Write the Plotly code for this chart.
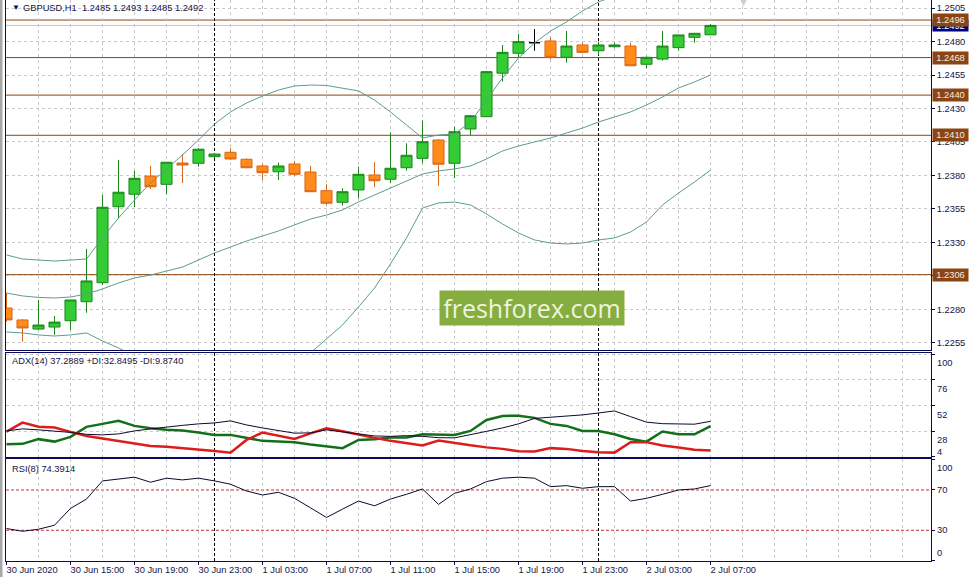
import plotly.graph_objects as go
import pandas as pd

# ---------------- data ----------------
bar_times = pd.date_range("2020-06-30 11:00", periods=45, freq="h")

open_ = [1.22811, 1.22722, 1.22654, 1.22669, 1.22716, 1.22858, 1.23000, 1.23567, 1.23660, 1.23796,
         1.23734, 1.23893, 1.23891, 1.23940, 1.23973, 1.23921, 1.23871, 1.23828, 1.23886, 1.23826,
         1.23687, 1.23600, 1.23692, 1.23804, 1.23772, 1.23858, 1.23928, 1.24065, 1.23891, 1.24147,
         1.24239, 1.24563, 1.24712, 1.24791, 1.24804, 1.24682, 1.24774, 1.24731, 1.24761, 1.24766,
         1.24630, 1.24669, 1.24754, 1.24831, 1.24850]
high = [1.22923, 1.22729, 1.22871, 1.22751, 1.22871, 1.23252, 1.23655, 1.23916, 1.23834, 1.23873,
        1.23899, 1.23960, 1.24003, 1.23968, 1.24003, 1.23928, 1.23886, 1.23896, 1.23910, 1.23871,
        1.23734, 1.23705, 1.23866, 1.23899, 1.24122, 1.24040, 1.24209, 1.24072, 1.24164, 1.24251,
        1.24580, 1.24774, 1.24856, 1.24893, 1.24831, 1.24878, 1.24791, 1.24799, 1.24791, 1.24791,
        1.24688, 1.24878, 1.24850, 1.24864, 1.24930]
low = [1.22710, 1.22560, 1.22647, 1.22610, 1.22647, 1.22776, 1.22983, 1.23481, 1.23563, 1.23699,
       1.23660, 1.23744, 1.23866, 1.23931, 1.23916, 1.23854, 1.23766, 1.23766, 1.23796, 1.23677,
       1.23580, 1.23575, 1.23630, 1.23712, 1.23742, 1.23836, 1.23891, 1.23722, 1.23779, 1.24102,
       1.24237, 1.24500, 1.24675, 1.24731, 1.24667, 1.24642, 1.24712, 1.24699, 1.24754, 1.24617,
       1.24600, 1.24657, 1.24731, 1.24791, 1.24850]
close = [1.22722, 1.22662, 1.22684, 1.22706, 1.22871, 1.23013, 1.23563, 1.23675, 1.23779, 1.23716,
         1.23899, 1.23878, 1.23996, 1.23960, 1.23923, 1.23858, 1.23821, 1.23871, 1.23809, 1.23679,
         1.23593, 1.23679, 1.23809, 1.23761, 1.23854, 1.23951, 1.24052, 1.23884, 1.24127, 1.24246,
         1.24575, 1.24719, 1.24799, 1.24791, 1.24682, 1.24766, 1.24719, 1.24774, 1.24774, 1.24619,
         1.24682, 1.24766, 1.24849, 1.24861, 1.24920]

bb_upper = [1.23207, 1.23177, 1.23169, 1.23162, 1.23169, 1.23177, 1.23334, 1.23483, 1.23617, 1.23744,
            1.23849, 1.23953, 1.24065, 1.24184, 1.24274, 1.24341, 1.24393, 1.24438, 1.24468, 1.24475,
            1.24472, 1.24453, 1.24431, 1.24363, 1.24274, 1.24177, 1.24080, 1.24102, 1.24110, 1.24199,
            1.24363, 1.24528, 1.24677, 1.24789, 1.24878, 1.24946, 1.25028, 1.25095, 1.25140, 1.25169,
            1.25199, 1.25192, 1.25237, 1.25244, 1.25259]
bb_mid = [1.22923, 1.22901, 1.22890, 1.22886, 1.22893, 1.22916, 1.22953, 1.22998, 1.23035, 1.23057,
          1.23087, 1.23117, 1.23169, 1.23222, 1.23266, 1.23311, 1.23348, 1.23386, 1.23431, 1.23475,
          1.23505, 1.23543, 1.23602, 1.23654, 1.23707, 1.23759, 1.23811, 1.23834, 1.23849, 1.23871,
          1.23923, 1.23983, 1.24020, 1.24050, 1.24080, 1.24117, 1.24154, 1.24199, 1.24237, 1.24274,
          1.24326, 1.24386, 1.24453, 1.24498, 1.24550]
bb_lower = [1.22632, 1.22625, 1.22610, 1.22602, 1.22610, 1.22625, 1.22565, 1.22513, 1.22453, 1.22371,
            1.22326, 1.22281, 1.22274, 1.22259, 1.22259, 1.22281, 1.22304, 1.22334, 1.22393, 1.22475,
            1.22580, 1.22684, 1.22819, 1.22960, 1.23140, 1.23334, 1.23557, 1.23595, 1.23602, 1.23580,
            1.23513, 1.23438, 1.23371, 1.23319, 1.23296, 1.23289, 1.23296, 1.23319, 1.23334, 1.23378,
            1.23453, 1.23580, 1.23669, 1.23751, 1.23841]

adx = [28.3, 30.2, 29.3, 28.3, 26.9, 25.1, 24.6, 25.5, 28.3, 30.2, 32.1, 33.5, 34.9, 35.8, 37.7,
       33.9, 31.1, 28.3, 26.2, 26.5, 29.3, 27.4, 25.5, 23.6, 23.2, 23.9, 23.2, 22.0, 21.8, 24.6,
       27.9, 31.1, 34.9, 40.0, 40.9, 41.9, 43.3, 45.1, 47.0, 41.7, 36.5, 35.1, 34.6, 34.6, 37.2889]
plus_di = [15.9, 16.2, 20.6, 18.3, 22.7, 32.1, 34.9, 37.7, 33.0, 30.7, 29.3, 28.6, 26.9, 24.6, 24.6,
           21.5, 19.0, 18.5, 17.8, 15.7, 13.6, 12.2, 19.9, 20.6, 22.1, 22.1, 25.1, 24.6, 24.6, 28.3,
           38.6, 42.3, 42.6, 40.5, 34.9, 33.0, 28.3, 28.3, 25.2, 20.8, 18.3, 27.7, 25.2, 25.2, 32.8495]
minus_di = [27.7, 36.1, 32.3, 31.4, 27.4, 23.6, 21.3, 19.0, 16.2, 14.3, 13.6, 12.4, 11.5, 9.6, 8.0,
            19.9, 26.7, 24.1, 20.8, 26.0, 30.8, 27.9, 24.6, 21.8, 19.0, 16.6, 14.6, 19.3, 16.8, 14.8,
            12.9, 11.5, 9.2, 9.0, 12.2, 11.5, 9.6, 8.4, 8.0, 17.8, 17.8, 14.6, 12.7, 10.6, 9.874]
rsi = [31.7, 29.0, 31.0, 35.0, 51.7, 61.0, 79.0, 81.0, 82.7, 77.7, 81.7, 80.0, 81.7, 79.0, 75.7,
       69.0, 65.0, 67.7, 61.7, 52.3, 42.7, 51.0, 59.0, 54.3, 61.0, 65.7, 71.0, 55.7, 66.7, 71.0,
       78.3, 81.7, 82.7, 81.7, 73.3, 74.3, 71.7, 73.3, 73.3, 59.0, 61.7, 65.7, 70.0, 71.0, 74.3914]

levels = [1.2496, 1.2468, 1.2440, 1.2410, 1.2306]
bid = 1.2492
price_ticks = [1.2255, 1.2280, 1.2305, 1.2330, 1.2355, 1.2380, 1.2405, 1.2430, 1.2455, 1.2480, 1.2505]
adx_ticks = [100, 76, 52, 28, 4]
rsi_ticks = [100, 70, 30, 0]
rsi_levels = [70, 30]
x_tick_labels = ["30 Jun 2020", "30 Jun 15:00", "30 Jun 19:00", "30 Jun 23:00", "1 Jul 03:00",
                 "1 Jul 07:00", "1 Jul 11:00", "1 Jul 15:00", "1 Jul 19:00", "1 Jul 23:00",
                 "2 Jul 03:00", "2 Jul 07:00"]
x_tick_pos = [0, 4, 8, 12, 16, 20, 24, 28, 32, 36, 40, 44]
grid_pos = list(range(0, 57, 2))
title_text = "GBPUSD,H1\u00a0\u00a01.2485 1.2493 1.2485 1.2492"
adx_text = "ADX(14) 37.2889 +DI:32.8495 -DI:9.8740"
rsi_text = "RSI(8) 74.3914"

# ---------------- style ----------------
W, H = 973, 577
def fx(px): return px / W
def fy(py): return 1 - py / H

BORDER = "#0b0b5c"
GRID = "#c9c9c9"
TXT = "#14144a"
FONT = "Liberation Sans"
FS = 9.3
BULL_FILL, BULL_LINE = "#33cc33", "#1c861c"
BEAR_FILL, BEAR_LINE = "#ff8c1a", "#d9661a"
BB = "#5c9c8c"
BROWN = "#8b4513"

n = len(close)
xs = list(range(n))
x_rng = [(6 - 6.5) / 16, (931 - 6.5) / 16]

fig = go.Figure()

normal = [i for i in xs if close[i] != open_[i]]
doji = [i for i in xs if close[i] == open_[i]]

for arr, col in [(bb_upper, BB), (bb_mid, BB), (bb_lower, BB)]:
    fig.add_trace(go.Scatter(x=xs, y=arr, mode="lines", line=dict(color=col, width=1),
                             hoverinfo="skip", xaxis="x", yaxis="y"))

fig.add_trace(go.Candlestick(
    x=normal, open=[open_[i] for i in normal], high=[high[i] for i in normal],
    low=[low[i] for i in normal], close=[close[i] for i in normal],
    increasing=dict(line=dict(color=BULL_LINE, width=1), fillcolor=BULL_FILL),
    decreasing=dict(line=dict(color=BEAR_LINE, width=1), fillcolor=BEAR_FILL),
    whiskerwidth=0, hoverinfo="skip", xaxis="x", yaxis="y"))
fig.add_trace(go.Candlestick(
    x=doji, open=[open_[i] for i in doji], high=[high[i] for i in doji],
    low=[low[i] for i in doji], close=[close[i] for i in doji],
    increasing=dict(line=dict(color="#000000", width=1), fillcolor="#000000"),
    decreasing=dict(line=dict(color="#000000", width=1), fillcolor="#000000"),
    whiskerwidth=0, hoverinfo="skip", xaxis="x", yaxis="y"))

fig.add_trace(go.Scatter(x=xs, y=plus_di, mode="lines", line=dict(color="#12701a", width=2.5),
                         hoverinfo="skip", xaxis="x2", yaxis="y2"))
fig.add_trace(go.Scatter(x=xs, y=minus_di, mode="lines", line=dict(color="#dd1c1c", width=2.5),
                         hoverinfo="skip", xaxis="x2", yaxis="y2"))
fig.add_trace(go.Scatter(x=xs, y=adx, mode="lines", line=dict(color="#0a0a2a", width=1),
                         hoverinfo="skip", xaxis="x2", yaxis="y2"))
fig.add_trace(go.Scatter(x=xs, y=rsi, mode="lines", line=dict(color="#0a0a2a", width=1),
                         hoverinfo="skip", xaxis="x3", yaxis="y3"))

xdom = [fx(6), fx(931)]
def xaxis(anchor, labels, mirror=True):
    d = dict(domain=xdom, range=x_rng, anchor=anchor, showline=True, mirror=mirror,
             linecolor=BORDER, linewidth=1, zeroline=False,
             tickmode="array", tickvals=x_tick_pos,
             ticktext=x_tick_labels if labels else [""] * len(x_tick_pos),
             showgrid=True, gridcolor=GRID, griddash="3px,3px", gridwidth=1,
             minor=dict(tickmode="array", tickvals=grid_pos, showgrid=True, gridcolor=GRID,
                        griddash="3px,3px", gridwidth=1, ticks=""),
             showticklabels=labels, ticks="outside" if labels else "", ticklen=3,
             tickcolor=BORDER, rangeslider=dict(visible=False),
             tickfont=dict(family=FONT, size=FS, color=TXT))
    if labels:
        d["ticklabelposition"] = "outside right"
        d["ticklabelshift"] = -1
    return d

fig.update_layout(
    width=W, height=H, margin=dict(l=0, r=0, t=0, b=0, autoexpand=False),
    paper_bgcolor="white", plot_bgcolor="white", showlegend=False, hovermode=False,
    boxgap=0.31, boxgroupgap=0,
    xaxis=xaxis("y", False, mirror=False),
    xaxis2=xaxis("y2", False),
    xaxis3=xaxis("y3", True),
    yaxis=dict(domain=[fy(350), fy(0)], range=[1.251097 - 0.00007463 * 350, 1.251097],
               anchor="x", side="right", showline=True, mirror=True, linecolor=BORDER, linewidth=1,
               tickmode="array", tickvals=price_ticks, ticktext=[f"{v:.4f}" for v in price_ticks],
               ticks="outside", ticklen=3, tickcolor=BORDER, zeroline=False,
               showgrid=True, gridcolor=GRID, griddash="3px,3px",
               tickfont=dict(family=FONT, size=FS, color=TXT)),
    yaxis2=dict(domain=[fy(457), fy(352.5)], range=[3.9, 101.68], anchor="x2", side="right",
                showline=True, mirror=True, linecolor=BORDER, linewidth=1,
                tickmode="array", tickvals=adx_ticks, showticklabels=False,
                ticks="outside", ticklen=3, tickcolor=BORDER, zeroline=False,
                showgrid=True, gridcolor=GRID, griddash="3px,3px"),
    yaxis3=dict(domain=[fy(561), fy(459)], range=[-0.5, 100.74], anchor="x3", side="right",
                showline=True, mirror=True, linecolor=BORDER, linewidth=1,
                tickmode="array", tickvals=rsi_ticks, showticklabels=False,
                ticks="outside", ticklen=3, tickcolor=BORDER, zeroline=False, showgrid=False),
)

shapes = []
shapes.append(dict(type="rect", xref="paper", yref="paper", x0=0, x1=fx(2.5), y0=0, y1=1,
                   fillcolor="#a8a8a8", line=dict(width=0), layer="above"))
shapes.append(dict(type="line", xref="paper", yref="y", x0=xdom[0], x1=xdom[1], y0=bid, y1=bid,
                   line=dict(color="#c4c4c4", width=1), layer="below"))
for lv in levels:
    shapes.append(dict(type="line", xref="paper", yref="y", x0=xdom[0], x1=xdom[1], y0=lv, y1=lv,
                       line=dict(color=BROWN, width=1), layer="below"))
for lv in rsi_levels:
    shapes.append(dict(type="line", xref="paper", yref="y3", x0=xdom[0], x1=xdom[1], y0=lv, y1=lv,
                       line=dict(color="#c83232", width=1, dash="3px,2px"), layer="below"))
for i, t in enumerate(bar_times):
    if t.hour == 0:
        shapes.append(dict(type="line", xref="x", yref="paper", x0=i, x1=i, y0=fy(561), y1=fy(0),
                           line=dict(color="#000000", width=1, dash="3px,2px"), layer="below"))
fig.update_layout(shapes=shapes)

ann = []
ann.append(dict(xref="paper", yref="paper", x=fx(10), y=fy(8), xanchor="left", yanchor="middle",
                text="\u25bc", showarrow=False, font=dict(family=FONT, size=8, color="#10104a")))
ann.append(dict(xref="paper", yref="paper", x=fx(21), y=fy(8), xanchor="left", yanchor="middle",
                text=title_text, showarrow=False, font=dict(family=FONT, size=FS, color=TXT)))
ann.append(dict(xref="paper", yref="paper", x=fx(10), y=fy(361), xanchor="left", yanchor="middle",
                text=adx_text, showarrow=False, font=dict(family=FONT, size=FS, color=TXT)))
ann.append(dict(xref="paper", yref="paper", x=fx(10), y=fy(469), xanchor="left", yanchor="middle",
                text=rsi_text, showarrow=False, font=dict(family=FONT, size=FS, color=TXT)))
ann.append(dict(xref="paper", yref="paper", x=fx(743), y=fy(2), xanchor="center", yanchor="middle",
                text="\u25bc", showarrow=False, font=dict(family=FONT, size=11, color="#cfcfcf")))
ann.append(dict(xref="paper", yref="paper", x=fx(532), y=fy(308), xanchor="center", yanchor="middle",
                text="freshforex.com", showarrow=False, bgcolor="#86ad3f", width=182, height=32,
                borderpad=1, font=dict(family="Open Sans", size=25, color="#eef3df")))
for v in adx_ticks:
    last = v == min(adx_ticks)
    ann.append(dict(xref="paper", yref="y2", x=fx(935), y=v, xanchor="left",
                    yanchor="bottom" if last else "top", yshift=-2,
                    text=str(v), showarrow=False, font=dict(family=FONT, size=FS, color=TXT)))
for v in rsi_ticks:
    ya = "top" if v == max(rsi_ticks) else ("bottom" if v == min(rsi_ticks) else "middle")
    ann.append(dict(xref="paper", yref="y3", x=fx(935), y=v, xanchor="left", yanchor=ya,
                    yshift=-1 if ya == "top" else (1 if ya == "bottom" else 0),
                    text=str(v), showarrow=False, font=dict(family=FONT, size=FS, color=TXT)))
ann.append(dict(xref="paper", yref="y", x=fx(932), y=bid, xanchor="left", yanchor="middle",
                text=f"{bid:.4f}", showarrow=False, bgcolor="#000080", width=33, height=9,
                borderpad=1, font=dict(family=FONT, size=FS, color="#ffffff")))
for lv in levels:
    ann.append(dict(xref="paper", yref="y", x=fx(932), y=lv, xanchor="left", yanchor="middle",
                    text=f"{lv:.4f}", showarrow=False, bgcolor=BROWN, width=33, height=10,
                    borderpad=1, font=dict(family=FONT, size=FS, color="#f4ece4")))
fig.update_layout(annotations=ann)

fig.write_html("out.html", config={"displayModeBar": False},
               post_script="document.body.style.margin='0';document.body.style.overflow='hidden';")
